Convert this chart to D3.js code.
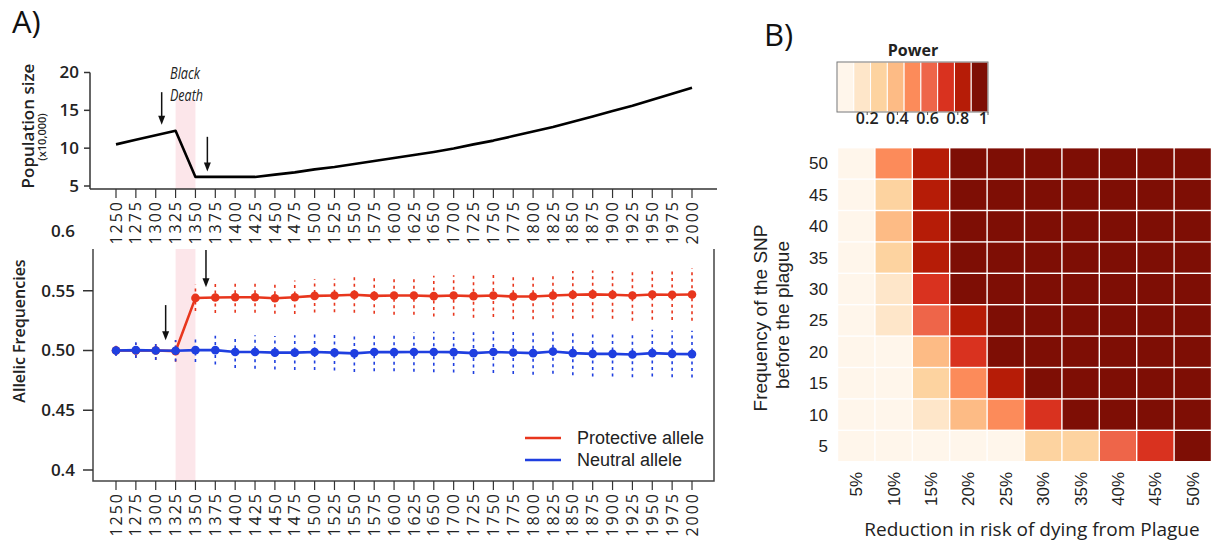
<!DOCTYPE html>
<html><head><meta charset="utf-8">
<script src="https://cdn.jsdelivr.net/npm/d3@7"></script>
<style>body{margin:0;background:#fff} svg{display:block}</style>
</head><body>
<svg id="c" width="1211" height="545"></svg>
<script>
// ---------- DATA ----------
const years = ["1250","1275","1300","1325","1350","1375","1400","1425","1450","1475","1500","1525","1550","1575","1600","1625","1650","1700","1725","1750","1775","1800","1825","1850","1875","1900","1925","1950","1975","2000"];
const popSize = [10.5,11.1,11.7,12.3,6.2,6.2,6.2,6.2,6.5,6.8,7.2,7.5,7.9,8.3,8.7,9.1,9.5,9.95,10.5,11.0,11.6,12.2,12.8,13.5,14.2,14.9,15.6,16.4,17.2,18.0];
const popTicks = [5,10,15,20];
const protective = [0.500,0.500,0.500,0.4995,0.544,0.5443,0.5446,0.5445,0.5437,0.5446,0.5457,0.546,0.5466,0.5457,0.546,0.546,0.5455,0.546,0.5455,0.546,0.5452,0.5452,0.546,0.5466,0.547,0.5466,0.546,0.5468,0.5466,0.5468];
const protectiveErr = [0.004,0.006,0.008,0.009,0.011,0.013,0.013,0.013,0.013,0.014,0.014,0.014,0.015,0.015,0.016,0.016,0.017,0.017,0.018,0.018,0.019,0.019,0.019,0.020,0.020,0.020,0.021,0.021,0.021,0.022];
const neutral = [0.5,0.5003,0.5,0.4998,0.5003,0.5003,0.4988,0.4988,0.4982,0.4982,0.4987,0.4982,0.4976,0.4987,0.4986,0.4987,0.4987,0.4986,0.4978,0.4987,0.4983,0.4978,0.4991,0.4978,0.4972,0.4972,0.4967,0.4978,0.4972,0.497];
const neutralErr = [0.0045,0.0065,0.008,0.009,0.010,0.012,0.0135,0.014,0.014,0.0145,0.015,0.015,0.0155,0.016,0.016,0.0165,0.017,0.017,0.0175,0.0175,0.018,0.018,0.0185,0.0185,0.019,0.019,0.019,0.0195,0.0195,0.0195];
const freqTicks = [0.4,0.45,0.5,0.55,0.6];
const freqTickLabels = ["0.4","0.45","0.50","0.55","0.6"];
const seriesNames = ["Protective allele","Neutral allele"];
const reductions = ["5%","10%","15%","20%","25%","30%","35%","40%","45%","50%"];
const snpFreqs = ["50","45","40","35","30","25","20","15","10","5"];
const power = [
  [0.03,0.49,0.84,0.99,1,1,1,1,1,1],
  [0.03,0.27,0.83,0.98,1,1,1,1,1,1],
  [0.03,0.36,0.82,0.98,1,1,1,1,1,1],
  [0.02,0.28,0.81,0.97,1,1,1,1,1,1],
  [0.02,0.17,0.74,0.96,1,1,1,1,1,1],
  [0.02,0.16,0.63,0.85,0.99,1,1,1,1,1],
  [0.02,0.04,0.38,0.73,0.95,1,1,1,1,1],
  [0.02,0.03,0.28,0.50,0.83,0.97,1,1,1,1],
  [0.02,0.03,0.15,0.37,0.50,0.72,0.93,0.98,1,1],
  [0.01,0.02,0.02,0.03,0.04,0.27,0.29,0.62,0.74,0.92]
];
const powerColors = ["#fff6eb","#fee6c9","#fdd3a0","#fdbb85","#fc8b5a","#ee6549","#d9321f","#b61c07","#7e0e05"];
const powerTicks = [0.2,0.4,0.6,0.8,1];

// ---------- SETUP ----------
const svg = d3.select("#c");
const FA = "'Open Sans', 'Noto Sans', sans-serif";
const FB = "'Liberation Sans', Arial, sans-serif";
const red = "#e8361d", blue = "#1f3fe0", pink = "#fce6ea", axisCol = "#333";

function arrow(g, x, y1, y2) {
  g.append("line").attr("x1", x).attr("x2", x).attr("y1", y1).attr("y2", y2 - 7)
    .attr("stroke", "#111").attr("stroke-width", 1.5);
  g.append("path").attr("d", `M${x-3.5},${y2-9} L${x+3.5},${y2-9} L${x},${y2} Z`).attr("fill", "#111");
}

// ---------- PANEL A ----------
svg.append("text").attr("x", 12).attr("y", 33).attr("font-family", FA).attr("font-size", 31).attr("fill", "#111").text("A)");

const xA = d3.scalePoint().domain(years).range([116, 692]);
const step = xA.step();
const xi = i => xA(years[0]) + i * step;

// Top: population size
const yPop = d3.scaleLinear().domain([5, 20]).range([186, 72.5]);
const gT = svg.append("g");
gT.append("rect").attr("x", xA("1325")).attr("width", xA("1350") - xA("1325"))
  .attr("y", 100).attr("height", 189 - 100).attr("fill", pink);
gT.append("line").attr("x1", 90).attr("x2", 717).attr("y1", 189).attr("y2", 189).attr("stroke", axisCol).attr("stroke-width", 1.5);
gT.append("line").attr("x1", 90).attr("x2", 90).attr("y1", yPop(20)).attr("y2", 189).attr("stroke", axisCol).attr("stroke-width", 1.5);
popTicks.forEach(t => {
  gT.append("line").attr("x1", 84).attr("x2", 90).attr("y1", yPop(t)).attr("y2", yPop(t)).attr("stroke", axisCol).attr("stroke-width", 1.5);
  gT.append("text").attr("x", 79).attr("y", yPop(t)).attr("dy", "0.35em").attr("text-anchor", "end")
    .attr("font-family", FA).attr("font-weight", 600).attr("font-size", 17).attr("fill", "#222").text(t);
});
function xTicks(g, y0) {
  years.forEach(yr => {
    const x = xA(yr);
    g.append("line").attr("x1", x).attr("x2", x).attr("y1", y0).attr("y2", y0 + 9).attr("stroke", axisCol).attr("stroke-width", 1.2);
    g.append("text").attr("transform", `translate(${x},${y0 + 11}) rotate(-90)`).attr("text-anchor", "end").attr("dy", "0.35em")
      .attr("font-family", FA).attr("font-size", 16).attr("letter-spacing", "2px").attr("fill", "#222").text(yr);
  });
}
xTicks(gT, 189);
gT.append("path").datum(popSize)
  .attr("d", d3.line().x((d, i) => xA(years[i])).y(d => yPop(d)))
  .attr("fill", "none").attr("stroke", "#000").attr("stroke-width", 2.6).attr("stroke-linejoin", "round");
gT.append("text").attr("x", 170).attr("y", 79).attr("font-family", FA).attr("font-style", "italic").attr("font-size", 17)
  .attr("textLength", 30).attr("lengthAdjust", "spacingAndGlyphs").attr("fill", "#222").text("Black");
gT.append("text").attr("x", 170).attr("y", 101).attr("font-family", FA).attr("font-style", "italic").attr("font-size", 17)
  .attr("textLength", 33).attr("lengthAdjust", "spacingAndGlyphs").attr("fill", "#222").text("Death");
arrow(gT, xi(2.3), yPop(17.4), yPop(13.1));
arrow(gT, xi(4.6), yPop(11.5), yPop(6.9));
gT.append("text").attr("transform", "translate(28,126) rotate(-90)").attr("text-anchor", "middle").attr("dy", "0.35em")
  .attr("font-family", FA).attr("font-weight", 600).attr("font-size", 17).attr("fill", "#222").text("Population size");
gT.append("text").attr("transform", "translate(42,137) rotate(-90)").attr("text-anchor", "middle").attr("dy", "0.35em")
  .attr("font-family", FA).attr("font-weight", 600).attr("font-size", 11).attr("fill", "#222").text("(x10,000)");

// Bottom: allele frequencies
const yF = d3.scaleLinear().domain([0.4, 0.6]).range([470, 231]);
const gB = svg.append("g");
gB.append("rect").attr("x", xA("1325")).attr("width", xA("1350") - xA("1325"))
  .attr("y", 249).attr("height", 481 - 249).attr("fill", pink);
gB.append("path").attr("d", "M93,249 V481 H714 V249").attr("fill", "none").attr("stroke", "#444").attr("stroke-width", 1.5);
freqTicks.forEach((t, i) => {
  if (yF(t) > 249) gB.append("line").attr("x1", 83).attr("x2", 93).attr("y1", yF(t)).attr("y2", yF(t)).attr("stroke", axisCol).attr("stroke-width", 1.5);
  gB.append("text").attr("x", 75).attr("y", yF(t)).attr("dy", "0.35em").attr("text-anchor", "end")
    .attr("font-family", FA).attr("font-weight", 600).attr("font-size", 17).attr("fill", "#222").text(freqTickLabels[i]);
});
xTicks(gB, 481);
gB.append("text").attr("transform", "translate(19,331) rotate(-90)").attr("text-anchor", "middle").attr("dy", "0.35em")
  .attr("font-family", FA).attr("font-weight", 600).attr("font-size", 16).attr("fill", "#222").text("Allelic Frequencies");

function series(vals, errs, col) {
  const g = gB.append("g");
  vals.forEach((v, i) => {
    g.append("line").attr("x1", xA(years[i])).attr("x2", xA(years[i])).attr("y1", yF(v - errs[i])).attr("y2", yF(v + errs[i]))
      .attr("stroke", col).attr("stroke-width", 1.6).attr("stroke-dasharray", "3,3.5");
  });
  g.append("path").datum(vals).attr("d", d3.line().x((d, i) => xA(years[i])).y(d => yF(d)))
    .attr("fill", "none").attr("stroke", col).attr("stroke-width", 2.6);
  g.selectAll("circle").data(vals).join("circle").attr("cx", (d, i) => xA(years[i])).attr("cy", d => yF(d)).attr("r", 4.3).attr("fill", col);
}
series(protective, protectiveErr, red);
series(neutral, neutralErr, blue);
arrow(gB, xi(2.5), yF(0.538), yF(0.5085));
arrow(gB, xi(4.53), yF(0.584), yF(0.553));

// legend
[[seriesNames[0], red, 438], [seriesNames[1], blue, 460]].forEach(([n, c, y]) => {
  gB.append("line").attr("x1", 525).attr("x2", 561).attr("y1", y).attr("y2", y).attr("stroke", c).attr("stroke-width", 2.6);
  gB.append("text").attr("x", 577).attr("y", y).attr("dy", "0.35em").attr("font-family", FB).attr("font-size", 18).attr("fill", "#222").text(n);
});

// ---------- PANEL B ----------
svg.append("text").attr("x", 764).attr("y", 46).attr("font-family", FA).attr("font-size", 31).attr("fill", "#111").text("B)");
const color = d3.scaleQuantize().domain([0, 1]).range(powerColors);
const xH = d3.scaleBand().domain(reductions).range([837.5, 1211.5]);
const yH = d3.scaleBand().domain(snpFreqs).range([147.7, 461.7]);
const gH = svg.append("g");
power.forEach((row, r) => row.forEach((v, c) => {
  gH.append("rect").attr("x", xH(reductions[c]) + 0.7).attr("y", yH(snpFreqs[r]) + 0.7)
    .attr("width", xH.bandwidth() - 1.4).attr("height", yH.bandwidth() - 1.4).attr("fill", color(v));
}));
snpFreqs.forEach(s => {
  gH.append("text").attr("x", 828).attr("y", yH(s) + yH.bandwidth() / 2).attr("dy", "0.35em").attr("text-anchor", "end")
    .attr("font-family", FB).attr("font-size", 17).attr("fill", "#222").text(s);
});
reductions.forEach(r => {
  gH.append("text").attr("transform", `translate(${xH(r) + xH.bandwidth() / 2},472) rotate(-90)`).attr("text-anchor", "end").attr("dy", "0.35em")
    .attr("font-family", FB).attr("font-size", 17).attr("fill", "#222").text(r);
});
gH.append("text").attr("x", 1032).attr("y", 536).attr("text-anchor", "middle").attr("font-family", FA).attr("font-size", 19).attr("fill", "#222")
  .text("Reduction in risk of dying from Plague");
gH.append("text").attr("transform", "translate(760,318) rotate(-90)").attr("text-anchor", "middle").attr("dy", "0.35em")
  .attr("font-family", FB).attr("font-size", 19).attr("fill", "#222").text("Frequency of the SNP");
gH.append("text").attr("transform", "translate(782,315) rotate(-90)").attr("text-anchor", "middle").attr("dy", "0.35em")
  .attr("font-family", FB).attr("font-size", 19).attr("fill", "#222").text("before the plague");

// colorbar
const cb = d3.scaleLinear().domain([0, 1]).range([837, 988]);
const gC = svg.append("g");
powerColors.forEach((c, k) => {
  gC.append("rect").attr("x", cb(k / 9)).attr("width", cb((k + 1) / 9) - cb(k / 9)).attr("y", 62).attr("height", 50)
    .attr("fill", c).attr("stroke", "#fff").attr("stroke-width", 1);
});
gC.append("rect").attr("x", 837).attr("y", 62).attr("width", 151).attr("height", 50).attr("fill", "none").attr("stroke", "#777").attr("stroke-width", 1);
powerTicks.forEach(t => {
  gC.append("line").attr("x1", cb(t)).attr("x2", cb(t)).attr("y1", 112).attr("y2", 115).attr("stroke", "#555");
  gC.append("text").attr("x", cb(t)).attr("y", 124).attr("text-anchor", t === 1 ? "end" : "middle").attr("font-family", FA).attr("font-weight", 600)
    .attr("font-size", 16).attr("fill", "#222").text(t);
});
gC.append("text").attr("x", 913).attr("y", 56).attr("text-anchor", "middle").attr("font-family", FA).attr("font-weight", 700)
  .attr("font-size", 16).attr("fill", "#222").text("Power");
</script>
</body></html>
